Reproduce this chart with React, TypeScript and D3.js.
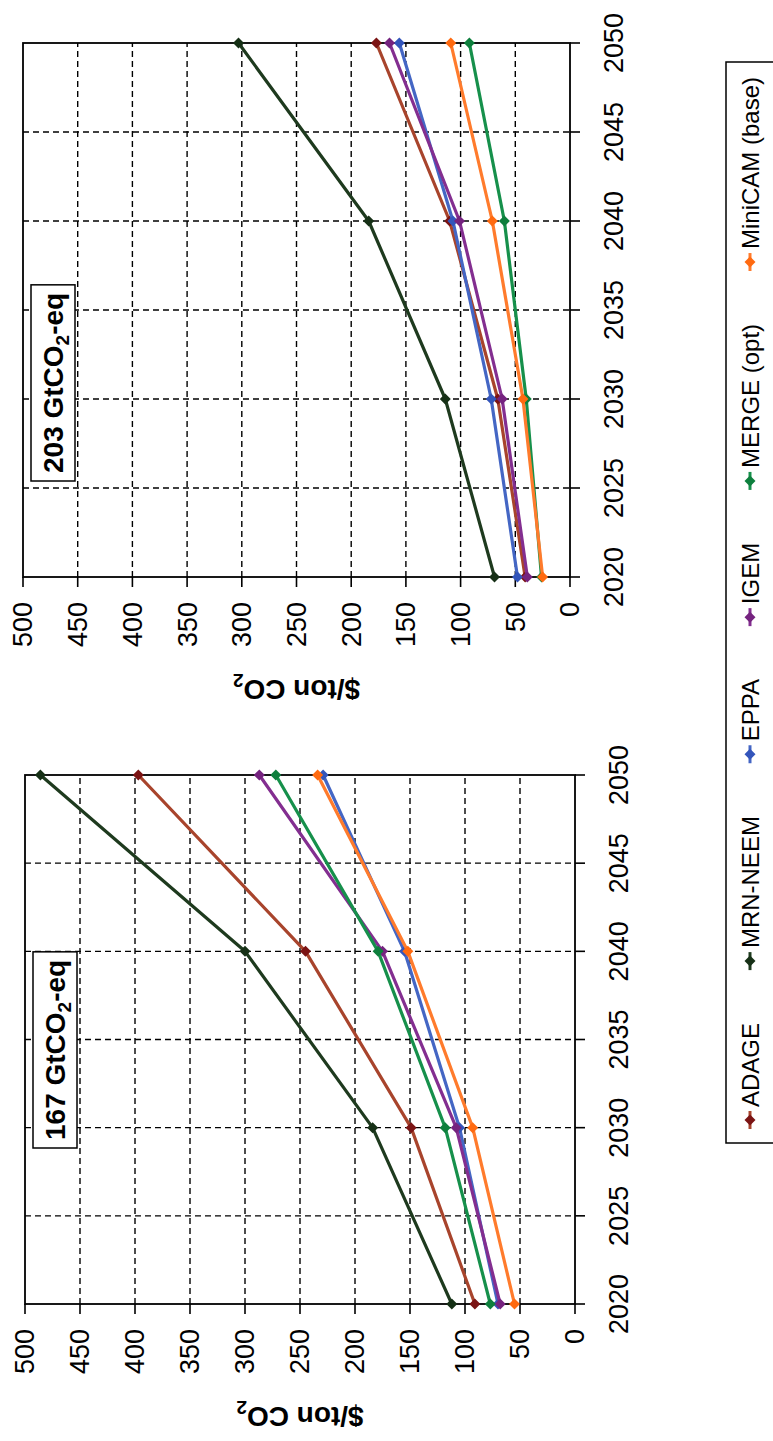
import React from 'react';
import * as d3 from 'd3';

const W = 773;
const H = 1441;
const FONT = "'Liberation Sans', Arial, sans-serif";

const years = [2020, 2030, 2040, 2050];
const yearTicks = [2020, 2025, 2030, 2035, 2040, 2045, 2050];
const valueTicks = [0, 50, 100, 150, 200, 250, 300, 350, 400, 450, 500];

const modelNames = ['ADAGE', 'MRN-NEEM', 'EPPA', 'IGEM', 'MERGE (opt)', 'MiniCAM (base)'];
const lineColors = ['#A8442C', '#1E3A1E', '#4466C4', '#832E90', '#16904B', '#FF7B2C'];
const markerColors = ['#7B1414', '#163016', '#3355BB', '#75237F', '#0E7F3D', '#FF6A10'];

// 167 GtCO2-eq panel
const adage167 = [91, 149, 245, 397];
const mrn167 = [112, 184, 300, 486];
const eppa167 = [70, 105, 155, 229];
const igem167 = [68, 108, 175, 287];
const merge167 = [77, 118, 179, 272];
const minicam167 = [55, 93, 152, 234];

// 203 GtCO2-eq panel
const adage203 = [41, 66, 110, 177];
const mrn203 = [69, 114, 184, 303];
const eppa203 = [48, 72, 107, 156];
const igem203 = [39, 62, 101, 165];
const merge203 = [26, 40, 60, 92];
const minicam203 = [25, 43, 71, 109];

const series167 = [adage167, mrn167, eppa167, igem167, merge167, minicam167];
const series203 = [adage203, mrn203, eppa203, igem203, merge203, minicam203];

let ctx: CanvasRenderingContext2D | null = null;
function measure(text: string, font: string): number {
  if (!ctx && typeof document !== 'undefined') {
    ctx = document.createElement('canvas').getContext('2d');
  }
  if (!ctx) return text.length * 12;
  ctx.font = font;
  return ctx.measureText(text).width;
}

function diamond(cx: number, cy: number, r: number) {
  return `M${cx},${cy - r}L${cx + r},${cy}L${cx},${cy + r}L${cx - r},${cy}Z`;
}

type PanelProps = {
  u0: number; u1: number; vTop: number; vBottom: number;
  data: number[][]; num: string; boxU: number;
};

function Panel({ u0, u1, vTop, vBottom, data, num, boxU }: PanelProps) {
  const x = d3.scaleLinear().domain([2020, 2050]).range([u0, u1]);
  const y = d3.scaleLinear().domain([0, 500]).range([vBottom, vTop]);
  const line = d3.line<number>().x((_, i) => x(years[i])).y((d) => y(d));
  const boxFont = `bold 28px ${FONT}`;
  const wNum = measure(`${num} GtCO`, boxFont);
  const wSub = measure('2', `bold 19px ${FONT}`);
  const wEnd = measure('-eq', boxFont);
  const boxW = wNum + wSub + wEnd + 16;
  return (
    <g>
      {/* gridlines */}
      {yearTicks.slice(1, -1).map((t) => (
        <line key={'gx' + t} x1={x(t)} x2={x(t)} y1={vTop} y2={vBottom}
          stroke="#000" strokeWidth={1.4} strokeDasharray="6,4" />
      ))}
      {valueTicks.slice(1, -1).map((t) => (
        <line key={'gy' + t} x1={u0} x2={u1} y1={y(t)} y2={y(t)}
          stroke="#000" strokeWidth={1.4} strokeDasharray="6,4" />
      ))}
      {/* frame */}
      <rect x={u0} y={vTop} width={u1 - u0} height={vBottom - vTop}
        fill="none" stroke="#000" strokeWidth={1.8} />
      {/* value ticks */}
      {valueTicks.map((t) => (
        <g key={'vt' + t}>
          <line x1={u0 - 10} x2={u0} y1={y(t)} y2={y(t)} stroke="#000" strokeWidth={1.6} />
          <text x={u0 - 25} y={y(t)} dy="0.35em" textAnchor="end"
            fontFamily={FONT} fontSize={27} fill="#000">{t}</text>
        </g>
      ))}
      {/* year ticks */}
      {yearTicks.map((t) => (
        <g key={'yt' + t}>
          <line x1={x(t)} x2={x(t)} y1={vBottom} y2={vBottom + 10} stroke="#000" strokeWidth={1.6} />
          <text x={x(t)} y={vBottom + 53} textAnchor="middle"
            fontFamily={FONT} fontSize={27} fill="#000">{t}</text>
        </g>
      ))}
      {/* axis title */}
      <text transform={`translate(${u0 - 103},${(vTop + vBottom) / 2}) rotate(-90)`}
        textAnchor="middle" fontFamily={FONT} fontSize={28} fontWeight="bold" fill="#000">
        $/ton CO<tspan fontSize={19} dy="6">2</tspan>
      </text>
      {/* series */}
      {data.map((s, k) => (
        <g key={'s' + k}>
          <path d={line(s) || ''} fill="none" stroke={lineColors[k]} strokeWidth={3.2}
            strokeLinejoin="round" />
          {s.map((d, i) => (
            <path key={i} d={diamond(x(years[i]), y(d), 5.5)} fill={markerColors[k]} />
          ))}
        </g>
      ))}
      {/* label box */}
      <rect x={boxU} y={vTop + 8} width={boxW} height={44} fill="#fff" stroke="#000" strokeWidth={1.5} />
      <text x={boxU + 8} y={vTop + 40} fontFamily={FONT} fontSize={28} fontWeight="bold" fill="#000">
        {num} GtCO<tspan fontSize={19} dy="6">2</tspan><tspan dy="-6">-eq</tspan>
      </text>
    </g>
  );
}

function Legend({ uL, uR, vT, vB }: { uL: number; uR: number; vT: number; vB: number }) {
  const fs = 24;
  const font = `${fs}px ${FONT}`;
  const widths = modelNames.map((n) => measure(n, font));
  const L = 18;
  const g1 = 4;
  const padL = 14;
  const padR = 15;
  const total = widths.reduce((a, b) => a + b, 0) + modelNames.length * (L + g1);
  const gap = (uR - uL - padL - padR - total) / (modelNames.length - 1);
  const vc = 750;
  let cur = uL + padL;
  const items = modelNames.map((n, k) => {
    const start = cur;
    cur += L + g1 + widths[k] + gap;
    return (
      <g key={n}>
        <line x1={start} x2={start + L} y1={vc} y2={vc} stroke={lineColors[k]} strokeWidth={3} />
        <path d={diamond(start + L / 2, vc, 5.5)} fill={markerColors[k]} />
        <text x={start + L + g1} y={vc + 8.5} fontFamily={FONT} fontSize={fs} fill="#000">{n}</text>
      </g>
    );
  });
  return (
    <g>
      <rect x={uL} y={vT} width={uR - uL} height={vB - vT} fill="#fff" stroke="#000" strokeWidth={1.5} />
      {items}
    </g>
  );
}

export default function App() {
  // Drawn in the chart's own (unrotated) frame, then rotated -90deg onto the page.
  return (
    <svg width={W} height={H} style={{ position: 'absolute', left: 0, top: 0, background: '#fff' }}>
      <rect x={0} y={0} width={W} height={H} fill="#fff" />
      <g transform={`translate(0,${H}) rotate(-90)`}>
        <Panel u0={137} u1={666} vTop={25} vBottom={575} data={series167} num="167" boxU={293} />
        <Panel u0={864} u1={1398} vTop={23} vBottom={570} data={series203} num="203" boxU={960} />
        <Legend uL={298} uR={1379} vT={726} vB={790} />
      </g>
    </svg>
  );
}
